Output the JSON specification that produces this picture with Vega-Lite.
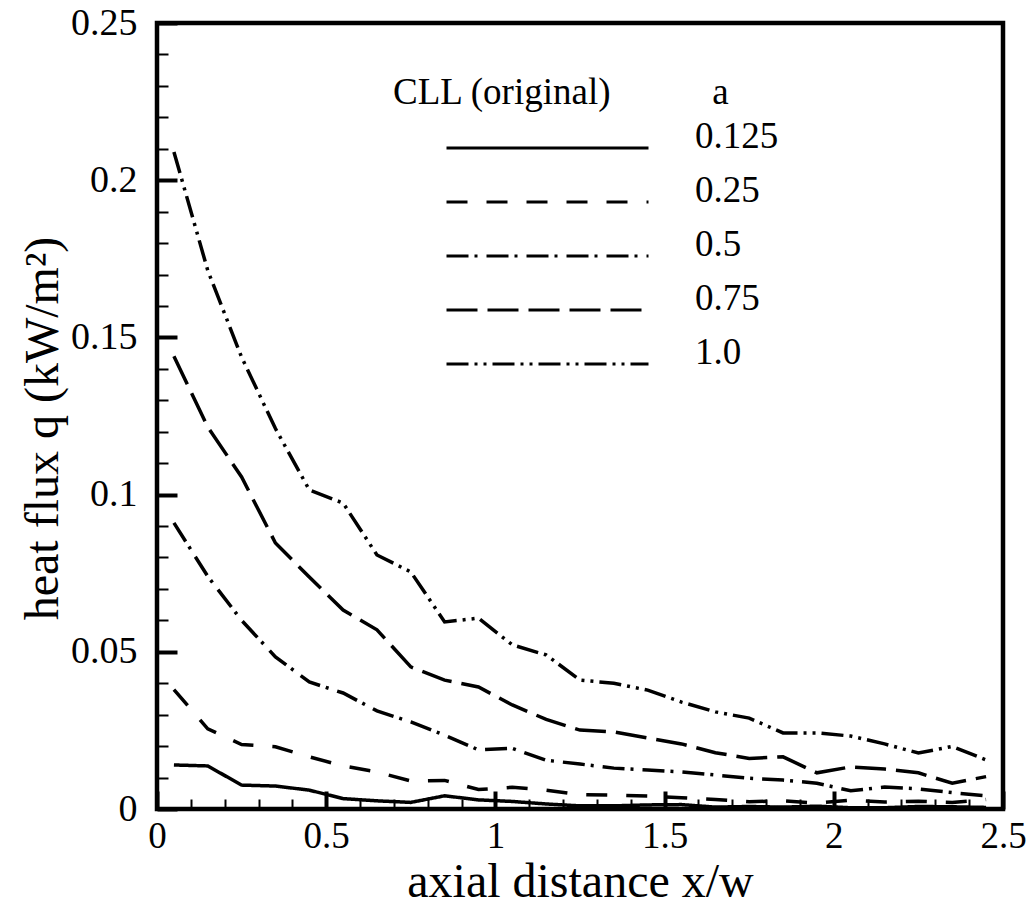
{
  "$schema": "https://vega.github.io/schema/vega-lite/v6.json",
  "width": 846,
  "height": 786,
  "autosize": {"type": "none"},
  "padding": {"left": 157, "top": 23, "right": 31, "bottom": 96},
  "background": "white",
  "config": {
    "view": {"stroke": "black", "strokeWidth": 4.5},
    "font": "Liberation Serif",
    "axis": {"labelFont": "Liberation Serif", "titleFont": "Liberation Serif"},
    "legend": {"labelFont": "Liberation Serif", "titleFont": "Liberation Serif"}
  },
  "data": {
    "values": [
      {"x": 0.05, "q": 0.0140, "a": "0.125"}, {"x": 0.15, "q": 0.0137, "a": "0.125"}, {"x": 0.25, "q": 0.0076, "a": "0.125"}, {"x": 0.35, "q": 0.0073, "a": "0.125"}, {"x": 0.45, "q": 0.0060, "a": "0.125"},
      {"x": 0.55, "q": 0.0033, "a": "0.125"}, {"x": 0.65, "q": 0.0026, "a": "0.125"}, {"x": 0.75, "q": 0.0021, "a": "0.125"}, {"x": 0.85, "q": 0.0042, "a": "0.125"}, {"x": 0.95, "q": 0.0029, "a": "0.125"},
      {"x": 1.05, "q": 0.0024, "a": "0.125"}, {"x": 1.15, "q": 0.0016, "a": "0.125"}, {"x": 1.25, "q": 0.0010, "a": "0.125"}, {"x": 1.35, "q": 0.0010, "a": "0.125"}, {"x": 1.45, "q": 0.0013, "a": "0.125"},
      {"x": 1.55, "q": 0.0014, "a": "0.125"}, {"x": 1.65, "q": 0.0006, "a": "0.125"}, {"x": 1.75, "q": 0.0008, "a": "0.125"}, {"x": 1.85, "q": 0.0006, "a": "0.125"}, {"x": 1.95, "q": 0.0009, "a": "0.125"},
      {"x": 2.05, "q": 0.0004, "a": "0.125"}, {"x": 2.15, "q": 0.0004, "a": "0.125"}, {"x": 2.25, "q": 0.0008, "a": "0.125"}, {"x": 2.35, "q": 0.0007, "a": "0.125"}, {"x": 2.45, "q": 0.0005, "a": "0.125"},

      {"x": 0.05, "q": 0.0380, "a": "0.25"}, {"x": 0.15, "q": 0.0255, "a": "0.25"}, {"x": 0.25, "q": 0.0205, "a": "0.25"}, {"x": 0.35, "q": 0.0198, "a": "0.25"}, {"x": 0.45, "q": 0.0166, "a": "0.25"},
      {"x": 0.55, "q": 0.0137, "a": "0.25"}, {"x": 0.65, "q": 0.0118, "a": "0.25"}, {"x": 0.75, "q": 0.0089, "a": "0.25"}, {"x": 0.85, "q": 0.0091, "a": "0.25"}, {"x": 0.95, "q": 0.0062, "a": "0.25"},
      {"x": 1.05, "q": 0.0069, "a": "0.25"}, {"x": 1.15, "q": 0.0060, "a": "0.25"}, {"x": 1.25, "q": 0.0046, "a": "0.25"}, {"x": 1.35, "q": 0.0044, "a": "0.25"}, {"x": 1.45, "q": 0.0041, "a": "0.25"},
      {"x": 1.55, "q": 0.0036, "a": "0.25"}, {"x": 1.65, "q": 0.0030, "a": "0.25"}, {"x": 1.75, "q": 0.0023, "a": "0.25"}, {"x": 1.85, "q": 0.0026, "a": "0.25"}, {"x": 1.95, "q": 0.0019, "a": "0.25"},
      {"x": 2.05, "q": 0.0028, "a": "0.25"}, {"x": 2.15, "q": 0.0022, "a": "0.25"}, {"x": 2.25, "q": 0.0025, "a": "0.25"}, {"x": 2.35, "q": 0.0021, "a": "0.25"}, {"x": 2.45, "q": 0.0030, "a": "0.25"},

      {"x": 0.05, "q": 0.0910, "a": "0.5"}, {"x": 0.15, "q": 0.0740, "a": "0.5"}, {"x": 0.25, "q": 0.0600, "a": "0.5"}, {"x": 0.35, "q": 0.0484, "a": "0.5"}, {"x": 0.45, "q": 0.0404, "a": "0.5"},
      {"x": 0.55, "q": 0.0369, "a": "0.5"}, {"x": 0.65, "q": 0.0312, "a": "0.5"}, {"x": 0.75, "q": 0.0277, "a": "0.5"}, {"x": 0.85, "q": 0.0235, "a": "0.5"}, {"x": 0.95, "q": 0.0188, "a": "0.5"},
      {"x": 1.05, "q": 0.0193, "a": "0.5"}, {"x": 1.15, "q": 0.0155, "a": "0.5"}, {"x": 1.25, "q": 0.0143, "a": "0.5"}, {"x": 1.35, "q": 0.0130, "a": "0.5"}, {"x": 1.45, "q": 0.0124, "a": "0.5"},
      {"x": 1.55, "q": 0.0118, "a": "0.5"}, {"x": 1.65, "q": 0.0108, "a": "0.5"}, {"x": 1.75, "q": 0.0098, "a": "0.5"}, {"x": 1.85, "q": 0.0092, "a": "0.5"}, {"x": 1.95, "q": 0.0082, "a": "0.5"},
      {"x": 2.05, "q": 0.0058, "a": "0.5"}, {"x": 2.15, "q": 0.0070, "a": "0.5"}, {"x": 2.25, "q": 0.0064, "a": "0.5"}, {"x": 2.35, "q": 0.0052, "a": "0.5"}, {"x": 2.45, "q": 0.0042, "a": "0.5"},

      {"x": 0.05, "q": 0.1440, "a": "0.75"}, {"x": 0.15, "q": 0.1215, "a": "0.75"}, {"x": 0.25, "q": 0.1056, "a": "0.75"}, {"x": 0.35, "q": 0.0846, "a": "0.75"}, {"x": 0.45, "q": 0.0738, "a": "0.75"},
      {"x": 0.55, "q": 0.0633, "a": "0.75"}, {"x": 0.65, "q": 0.0570, "a": "0.75"}, {"x": 0.75, "q": 0.0452, "a": "0.75"}, {"x": 0.85, "q": 0.0410, "a": "0.75"}, {"x": 0.95, "q": 0.0388, "a": "0.75"},
      {"x": 1.05, "q": 0.0331, "a": "0.75"}, {"x": 1.15, "q": 0.0285, "a": "0.75"}, {"x": 1.25, "q": 0.0251, "a": "0.75"}, {"x": 1.35, "q": 0.0245, "a": "0.75"}, {"x": 1.45, "q": 0.0226, "a": "0.75"},
      {"x": 1.55, "q": 0.0207, "a": "0.75"}, {"x": 1.65, "q": 0.0179, "a": "0.75"}, {"x": 1.75, "q": 0.0161, "a": "0.75"}, {"x": 1.85, "q": 0.0166, "a": "0.75"}, {"x": 1.95, "q": 0.0115, "a": "0.75"},
      {"x": 2.05, "q": 0.0134, "a": "0.75"}, {"x": 2.15, "q": 0.0127, "a": "0.75"}, {"x": 2.25, "q": 0.0115, "a": "0.75"}, {"x": 2.35, "q": 0.0082, "a": "0.75"}, {"x": 2.45, "q": 0.0103, "a": "0.75"},

      {"x": 0.05, "q": 0.2090, "a": "1.0"}, {"x": 0.15, "q": 0.1713, "a": "1.0"}, {"x": 0.25, "q": 0.1437, "a": "1.0"}, {"x": 0.35, "q": 0.1210, "a": "1.0"}, {"x": 0.45, "q": 0.1015, "a": "1.0"},
      {"x": 0.55, "q": 0.0973, "a": "1.0"}, {"x": 0.65, "q": 0.0808, "a": "1.0"}, {"x": 0.75, "q": 0.0754, "a": "1.0"}, {"x": 0.85, "q": 0.0595, "a": "1.0"}, {"x": 0.95, "q": 0.0607, "a": "1.0"},
      {"x": 1.05, "q": 0.0522, "a": "1.0"}, {"x": 1.15, "q": 0.0490, "a": "1.0"}, {"x": 1.25, "q": 0.0410, "a": "1.0"}, {"x": 1.35, "q": 0.0400, "a": "1.0"}, {"x": 1.45, "q": 0.0378, "a": "1.0"},
      {"x": 1.55, "q": 0.0340, "a": "1.0"}, {"x": 1.65, "q": 0.0309, "a": "1.0"}, {"x": 1.75, "q": 0.0289, "a": "1.0"}, {"x": 1.85, "q": 0.0242, "a": "1.0"}, {"x": 1.95, "q": 0.0242, "a": "1.0"},
      {"x": 2.05, "q": 0.0232, "a": "1.0"}, {"x": 2.15, "q": 0.0207, "a": "1.0"}, {"x": 2.25, "q": 0.0178, "a": "1.0"}, {"x": 2.35, "q": 0.0199, "a": "1.0"}, {"x": 2.45, "q": 0.0156, "a": "1.0"}
    ]
  },
  "mark": {"type": "line", "color": "black", "strokeWidth": 3.5, "strokeCap": "butt"},
  "encoding": {
    "x": {
      "field": "x", "type": "quantitative",
      "scale": {"domain": [0, 2.5], "nice": false, "zero": false},
      "axis": {
        "title": "axial distance x/w",
        "values": [0, 0.1, 0.2, 0.3, 0.4, 0.5, 0.6, 0.7, 0.8, 0.9, 1, 1.1, 1.2, 1.3, 1.4, 1.5, 1.6, 1.7, 1.8, 1.9, 2, 2.1, 2.2, 2.3, 2.4, 2.5],
        "labelExpr": "abs(datum.value*2-round(datum.value*2))<0.001 ? toString(round(datum.value*10)/10) : ''",
        "tickSize": {"condition": {"test": "abs(datum.value*2-round(datum.value*2))<0.001", "value": -18}, "value": -10},
        "tickWidth": {"condition": {"test": "abs(datum.value*2-round(datum.value*2))<0.001", "value": 4}, "value": 2},
        "tickColor": "black",
        "domain": false, "grid": false,
        "labelFont": "Liberation Serif", "labelFontSize": 37, "labelColor": "black",
        "labelPadding": 27, "labelOverlap": false, "labelFlush": false, "labelBound": false,
        "titleFont": "Liberation Serif", "titleFontSize": 48, "titleFontWeight": "normal", "titleColor": "black",
        "titleBaseline": "alphabetic", "titleY": 87
      }
    },
    "y": {
      "field": "q", "type": "quantitative",
      "scale": {"domain": [0, 0.25], "nice": false, "zero": false},
      "axis": {
        "title": "heat flux q (kW/m²)",
        "values": [0, 0.01, 0.02, 0.03, 0.04, 0.05, 0.06, 0.07, 0.08, 0.09, 0.1, 0.11, 0.12, 0.13, 0.14, 0.15, 0.16, 0.17, 0.18, 0.19, 0.2, 0.21, 0.22, 0.23, 0.24, 0.25],
        "labelExpr": "abs(datum.value*20-round(datum.value*20))<0.001 ? toString(round(datum.value*100)/100) : ''",
        "tickSize": {"condition": {"test": "abs(datum.value*20-round(datum.value*20))<0.001", "value": -20}, "value": -11},
        "tickWidth": {"condition": {"test": "abs(datum.value*20-round(datum.value*20))<0.001", "value": 4}, "value": 2},
        "tickColor": "black",
        "domain": false, "grid": false,
        "labelFont": "Liberation Serif", "labelFontSize": 38, "labelColor": "black",
        "labelPadding": 40, "labelOverlap": false, "labelFlush": false, "labelBound": false,
        "titleFont": "Liberation Serif", "titleFontSize": 48, "titleFontWeight": "normal", "titleColor": "black",
        "titleBaseline": "alphabetic", "titleX": -100, "titleY": 405
      }
    },
    "strokeDash": {
      "field": "a", "type": "nominal",
      "scale": {
        "domain": ["0.125", "0.25", "0.5", "0.75", "1.0"],
        "range": [[1, 0], [21, 19], [22, 6, 3, 9], [31, 10], [22, 6, 3, 6, 3, 6]]
      },
      "legend": {
        "orient": "none", "legendX": 236, "legendY": 52,
        "title": "CLL (original)\u00a0\u00a0\u00a0\u00a0\u00a0\u00a0\u00a0\u00a0\u00a0\u00a0\u00a0a",
        "titleFont": "Liberation Serif", "titleFontSize": 37, "titleFontWeight": "normal", "titleColor": "black",
        "titlePadding": 16, "titleLimit": 600,
        "labelFont": "Liberation Serif", "labelFontSize": 37, "labelColor": "black", "labelBaseline": "alphabetic",
        "symbolType": "stroke", "symbolSize": 40804, "symbolStrokeWidth": 3, "symbolStrokeColor": "black",
        "symbolOffset": 52, "labelOffset": 45, "rowPadding": 4, "clipHeight": 40, "padding": 0
      }
    }
  }
}
